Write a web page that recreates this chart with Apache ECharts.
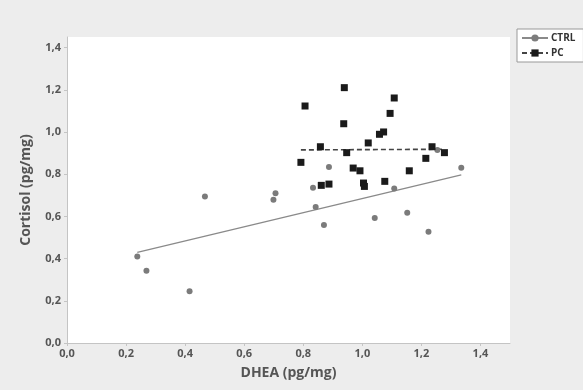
<!DOCTYPE html>
<html><head><meta charset="utf-8">
<script src="https://cdn.jsdelivr.net/npm/echarts@6/dist/echarts.min.js"></script>
<style>html,body{margin:0;padding:0;background:#ededed}#c{width:583px;height:390px}</style>
</head><body><div id="c"></div>
<script>
const ctrlX = [0.238,0.269,0.415,0.467,0.699,0.706,0.833,0.842,0.870,0.887,1.042,1.108,1.152,1.224,1.254,1.335];
const ctrlY = [0.410,0.342,0.245,0.694,0.679,0.710,0.736,0.645,0.559,0.834,0.592,0.732,0.617,0.527,0.915,0.831];
const pcX = [0.939,0.806,1.108,1.094,0.937,1.072,1.058,1.020,0.858,0.947,1.236,1.278,1.215,0.792,0.969,0.992,1.159,0.861,0.887,1.004,1.007,1.076];
const pcY = [1.210,1.123,1.161,1.088,1.039,1.000,0.989,0.948,0.930,0.902,0.930,0.902,0.875,0.856,0.829,0.816,0.816,0.747,0.753,0.758,0.742,0.766];
const ctrlFitX = [0.238,1.335], ctrlFitY = [0.429,0.797];
const pcFitX = [0.792,1.278], pcFitY = [0.915,0.918];
const ticks = [0,0.2,0.4,0.6,0.8,1.0,1.2,1.4];

const zip = (a,b)=>a.map((v,i)=>[v,b[i]]);
const fmt = v => ticks.some(t=>Math.abs(t-v)<1e-6) ? v.toFixed(1).replace('.',',') : '';
const font = '"Open Sans", sans-serif';
const chart = echarts.init(document.getElementById('c'));
chart.setOption({
  backgroundColor:'#ededed',
  animation:false,
  grid:{left:67,right:73,top:37,bottom:47,show:true,backgroundColor:'#ffffff',borderWidth:0},
  legend:{
    left:517, top:29, orient:'vertical', itemGap:5, itemWidth:26, itemHeight:9,
    backgroundColor:'#ffffff', borderColor:'#999999', borderWidth:1, padding:[4,8,4,4],
    textStyle:{fontFamily:font,fontSize:10,fontWeight:'bold',color:'#333',padding:[0,0,0,-2]},
    data:['CTRL','PC']
  },
  xAxis:{type:'value',min:0,max:1.5,interval:0.2,
    name:'DHEA (pg/mg)',nameLocation:'middle',nameGap:23,
    nameTextStyle:{fontFamily:font,fontSize:14,fontWeight:'bold',color:'#555'},
    axisLine:{lineStyle:{color:'#c4c4c4'}},axisTick:{show:true,length:3,lineStyle:{color:'#c4c4c4'}},
    axisLabel:{fontFamily:font,fontSize:11,fontWeight:'bold',color:'#555',margin:5,formatter:fmt,showMaxLabel:false},
    splitLine:{show:false}},
  yAxis:{type:'value',min:0,max:1.45,interval:0.2,
    name:'Cortisol (pg/mg)',nameLocation:'middle',nameGap:34,
    nameTextStyle:{fontFamily:font,fontSize:14,fontWeight:'bold',color:'#555'},
    axisLine:{show:true,lineStyle:{color:'#c4c4c4'}},axisTick:{show:true,length:3,lineStyle:{color:'#c4c4c4'}},
    axisLabel:{fontFamily:font,fontSize:11,fontWeight:'bold',color:'#555',margin:6,formatter:fmt,showMaxLabel:false},
    splitLine:{show:false}},
  series:[
    {name:'CTRL',type:'line',data:zip(ctrlFitX,ctrlFitY),symbol:'circle',symbolSize:5,showSymbol:false,
      itemStyle:{color:'#7d7d7d'},lineStyle:{color:'#8a8a8a',width:1.3},z:2},
    {name:'PC',type:'line',data:zip(pcFitX,pcFitY),symbol:'rect',symbolSize:6,showSymbol:false,
      itemStyle:{color:'#1a1a1a'},lineStyle:{color:'#444',width:1.6,type:[5,3]},z:2},
    {name:'CTRL',type:'scatter',data:zip(ctrlX,ctrlY),symbol:'circle',symbolSize:6,
      itemStyle:{color:'#7b7b7b',opacity:1},z:3},
    {name:'PC',type:'scatter',data:zip(pcX,pcY),symbol:'rect',symbolSize:7,
      itemStyle:{color:'#1a1a1a',opacity:1},z:4}
  ]
});
</script></body></html>
